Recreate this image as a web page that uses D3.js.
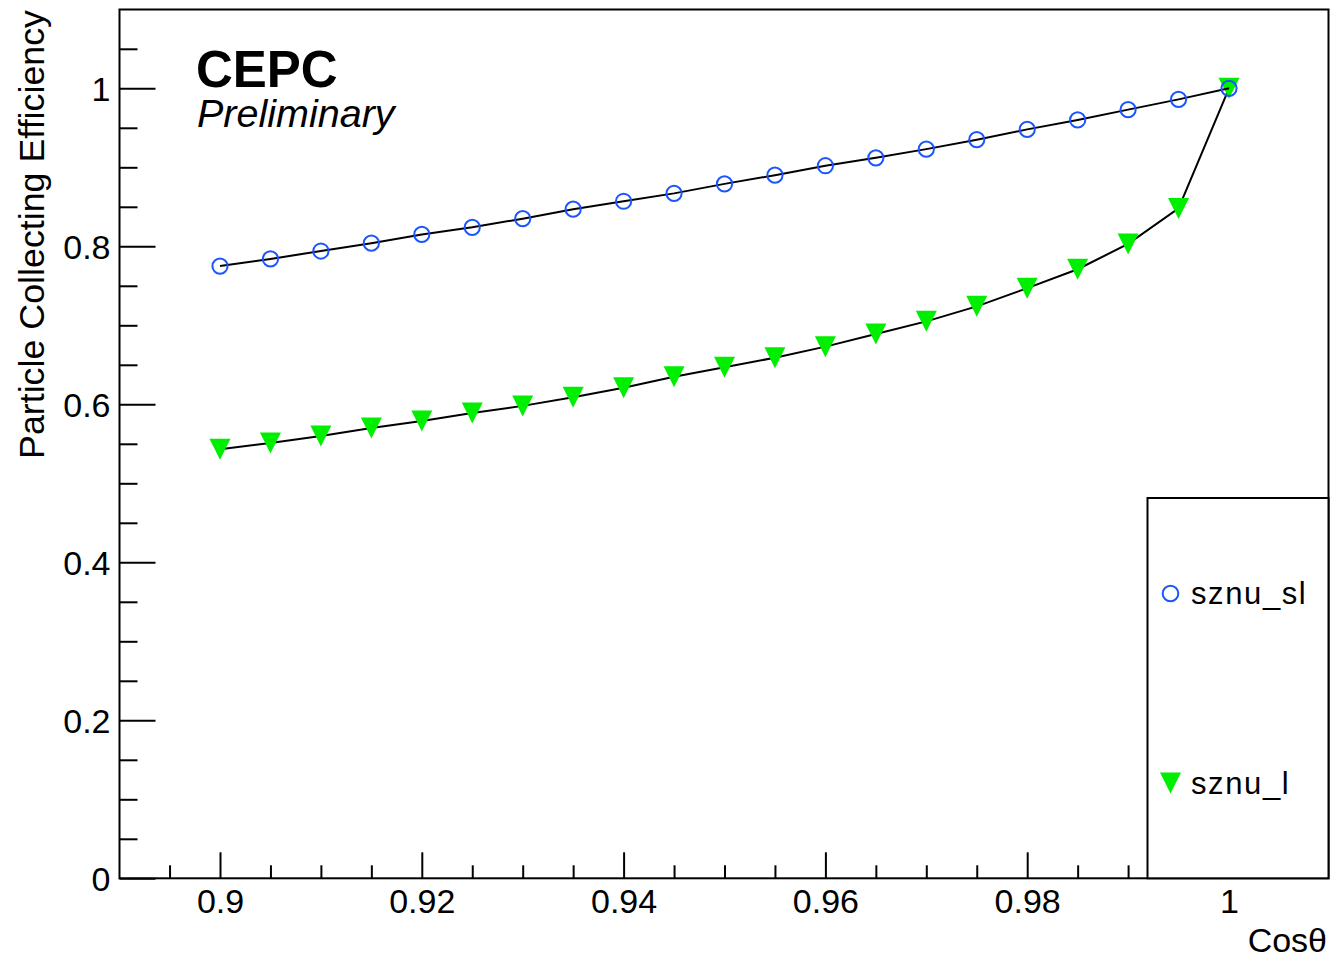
<!DOCTYPE html>
<html>
<head>
<meta charset="utf-8">
<script src="https://cdn.jsdelivr.net/npm/d3@7"></script>
<style>
  html, body { margin: 0; padding: 0; background: #fff; }
  svg { display: block; font-family: "Liberation Sans", Arial, Helvetica, sans-serif; }
</style>
</head>
<body>
<svg id="chart" width="1331" height="958"></svg>
<script>
// cos(theta) sampling points
const cosTheta = [0.900, 0.905, 0.910, 0.915, 0.920, 0.925, 0.930, 0.935, 0.940, 0.945,
                  0.950, 0.955, 0.960, 0.965, 0.970, 0.975, 0.980, 0.985, 0.990, 0.995, 1.000];

// collecting efficiency, semi-leptonic channel
const effSznuSl = [0.775, 0.784, 0.794, 0.804, 0.815, 0.824, 0.835, 0.847, 0.857, 0.867,
                   0.879, 0.890, 0.902, 0.912, 0.923, 0.935, 0.948, 0.960, 0.973, 0.986, 1.000];

// collecting efficiency, leptonic channel
const effSznuL = [0.543, 0.551, 0.560, 0.570, 0.579, 0.589, 0.598, 0.609, 0.621, 0.635,
                  0.647, 0.659, 0.673, 0.689, 0.705, 0.724, 0.747, 0.771, 0.803, 0.848, 1.000];

const xTickValues = [0.90, 0.92, 0.94, 0.96, 0.98, 1.00];
const xTickLabels = ["0.9", "0.92", "0.94", "0.96", "0.98", "1"];
const yTickValues = [0, 0.2, 0.4, 0.6, 0.8, 1.0];
const yTickLabels = ["0", "0.2", "0.4", "0.6", "0.8", "1"];

const seriesNames = ["sznu_sl", "sznu_l"];

const svg = d3.select("#chart");
const frame = { left: 119.5, right: 1328.5, top: 9.5, bottom: 878.3 };

const x = d3.scaleLinear().domain([0.89, 1.01]).range([119.1, 1329.9]);
const y = d3.scaleLinear().domain([0, 1.1]).range([878.3, 9.3]);

const blue = "#1a55ff";
const green = "#00ee00";

// frame
svg.append("rect")
  .attr("x", frame.left).attr("y", frame.top)
  .attr("width", frame.right - frame.left).attr("height", frame.bottom - frame.top)
  .attr("fill", "none").attr("stroke", "#000").attr("stroke-width", 2);

// x axis: major and minor ticks pointing inward
const xMinor = d3.range(0.895, 1.0051, 0.005).filter(v => !xTickValues.some(t => Math.abs(t - v) < 1e-6));
const xAxisMajor = d3.axisBottom(x).tickValues(xTickValues).tickSizeInner(-26).tickSizeOuter(0)
  .tickFormat((d, i) => xTickLabels[i]).tickPadding(0);
const gx = svg.append("g").attr("transform", `translate(0,${frame.bottom})`).call(xAxisMajor);
gx.select(".domain").remove();
gx.selectAll(".tick line").attr("stroke", "#000").attr("stroke-width", 2);
gx.selectAll(".tick text").attr("font-size", 34).attr("fill", "#000")
  .attr("dy", null).attr("y", 35);
const xAxisMinor = d3.axisBottom(x).tickValues(xMinor).tickSizeInner(-13).tickSizeOuter(0).tickFormat("");
const gxm = svg.append("g").attr("transform", `translate(0,${frame.bottom})`).call(xAxisMinor);
gxm.select(".domain").remove();
gxm.selectAll(".tick line").attr("stroke", "#000").attr("stroke-width", 2);

// y axis
const yMinor = d3.range(0.05, 1.0501, 0.05).filter(v => !yTickValues.some(t => Math.abs(t - v) < 1e-6));
const yAxisMajor = d3.axisLeft(y).tickValues(yTickValues).tickSizeInner(-36).tickSizeOuter(0)
  .tickFormat((d, i) => yTickLabels[i]).tickPadding(9);
const gy = svg.append("g").attr("transform", `translate(${frame.left},0)`).call(yAxisMajor);
gy.select(".domain").remove();
gy.selectAll(".tick line").attr("stroke", "#000").attr("stroke-width", 2);
gy.selectAll(".tick text").attr("font-size", 34).attr("fill", "#000").attr("dy", "0.35em");
const yAxisMinor = d3.axisLeft(y).tickValues(yMinor).tickSizeInner(-18).tickSizeOuter(0).tickFormat("");
const gym = svg.append("g").attr("transform", `translate(${frame.left},0)`).call(yAxisMinor);
gym.select(".domain").remove();
gym.selectAll(".tick line").attr("stroke", "#000").attr("stroke-width", 2);

// axis titles
svg.append("text")
  .attr("transform", "translate(44,10) rotate(-90)")
  .attr("text-anchor", "end")
  .attr("font-size", 35.8)
  .text("Particle Collecting Efficiency");
svg.append("text")
  .attr("x", 1327).attr("y", 952)
  .attr("text-anchor", "end")
  .attr("font-size", 34)
  .text("Cosθ");

// labels
svg.append("text").attr("x", 196).attr("y", 87)
  .attr("font-size", 51).attr("font-weight", "bold").text("CEPC");
svg.append("text").attr("x", 197).attr("y", 127)
  .attr("font-size", 39.5).attr("font-style", "italic").text("Preliminary");

const line = d3.line().x(d => x(d[0])).y(d => y(d[1]));
const ptsSl = cosTheta.map((c, i) => [c, effSznuSl[i]]);
const ptsL = cosTheta.map((c, i) => [c, effSznuL[i]]);

const tri = (cx, cy, w, h) => `M${cx - w / 2},${cy - h / 2}L${cx + w / 2},${cy - h / 2}L${cx},${cy + h / 2}Z`;

// leptonic series: line then down-triangles
svg.append("path").datum(ptsL).attr("d", line)
  .attr("fill", "none").attr("stroke", "#000").attr("stroke-width", 2);
svg.append("g").selectAll("path").data(ptsL).join("path")
  .attr("d", d => tri(x(d[0]), y(d[1]), 21, 21))
  .attr("fill", green);

// semi-leptonic series: line then open circles
svg.append("path").datum(ptsSl).attr("d", line)
  .attr("fill", "none").attr("stroke", "#000").attr("stroke-width", 2);
svg.append("g").selectAll("circle").data(ptsSl).join("circle")
  .attr("cx", d => x(d[0])).attr("cy", d => y(d[1])).attr("r", 7.6)
  .attr("fill", "none").attr("stroke", blue).attr("stroke-width", 2);

// legend box
const legend = svg.append("g");
legend.append("rect")
  .attr("x", 1147.5).attr("y", 498).attr("width", 1328.5 - 1147.5).attr("height", frame.bottom - 498)
  .attr("fill", "#fff").attr("stroke", "#000").attr("stroke-width", 2);
legend.append("circle").attr("cx", 1170.5).attr("cy", 593.5).attr("r", 7.8)
  .attr("fill", "none").attr("stroke", blue).attr("stroke-width", 2);
legend.append("path").attr("d", tri(1170.5, 783, 21, 21)).attr("fill", green);
legend.append("text").attr("x", 1191).attr("y", 604).attr("font-size", 31)
  .attr("letter-spacing", 1.6).text(seriesNames[0]);
legend.append("text").attr("x", 1191).attr("y", 794).attr("font-size", 31)
  .attr("letter-spacing", 1.6).text(seriesNames[1]);
</script>
</body>
</html>
